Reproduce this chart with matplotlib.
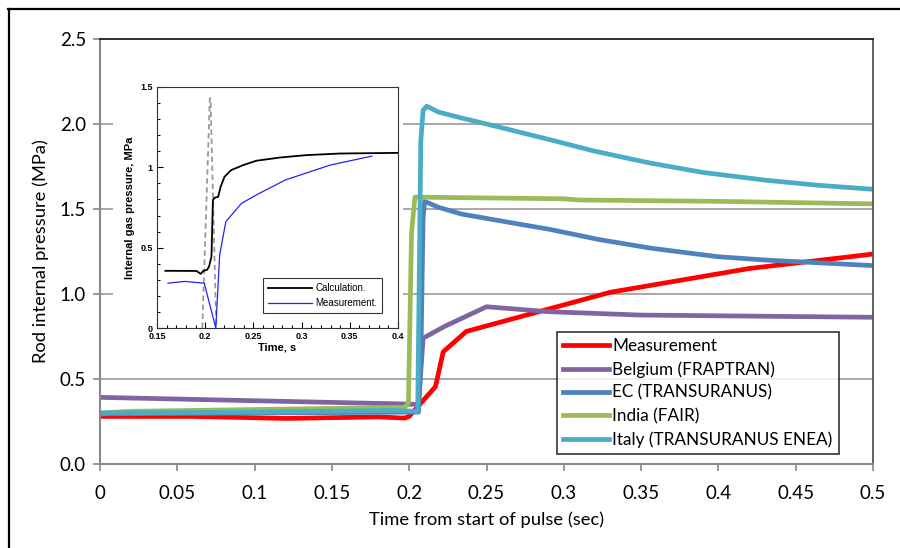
import matplotlib
matplotlib.use('Agg')
import matplotlib.pyplot as plt
from matplotlib.lines import Line2D
from matplotlib.ticker import MultipleLocator

# =============================
# DATOS PRINCIPALES (presion interna de la varilla, MPa)
# =============================
t_meas = [0, 0.06, 0.12, 0.18, 0.197, 0.2, 0.217, 0.222, 0.237, 0.33, 0.42, 0.5]
p_meas = [0.28, 0.28, 0.268, 0.277, 0.27, 0.28, 0.455, 0.66, 0.78, 1.01, 1.15, 1.235]

t_bel = [0, 0.197, 0.206, 0.209, 0.223, 0.25, 0.29, 0.35, 0.5]
p_bel = [0.392, 0.353, 0.35, 0.74, 0.81, 0.925, 0.896, 0.876, 0.863]

t_ec = [0, 0.1, 0.197, 0.206, 0.2075, 0.209, 0.21, 0.219, 0.234, 0.268, 0.291,
        0.323, 0.356, 0.399, 0.43, 0.464, 0.5]
p_ec = [0.295, 0.3, 0.305, 0.305, 0.6, 1.45, 1.545, 1.51, 1.47, 1.416, 1.38,
        1.32, 1.27, 1.22, 1.2, 1.184, 1.167]

t_ind = [0, 0.02, 0.197, 0.1995, 0.2015, 0.2037, 0.25, 0.3, 0.31, 0.4, 0.5]
p_ind = [0.30, 0.31, 0.333, 0.36, 1.36, 1.57, 1.565, 1.56, 1.553, 1.545, 1.53]

t_ita = [0, 0.1, 0.19, 0.2055, 0.2075, 0.209, 0.2113, 0.219, 0.234, 0.25, 0.27,
         0.29, 0.32, 0.356, 0.39, 0.43, 0.464, 0.5]
p_ita = [0.30, 0.305, 0.315, 0.31, 1.9, 2.08, 2.105, 2.07, 2.035, 2.0, 1.955,
         1.91, 1.84, 1.77, 1.715, 1.67, 1.64, 1.616]

series = [
    ("Measurement", t_meas, p_meas, "#FF0000"),
    ("Belgium (FRAPTRAN)", t_bel, p_bel, "#8064A2"),
    ("EC (TRANSURANUS)", t_ec, p_ec, "#4F81BD"),
    ("India (FAIR)", t_ind, p_ind, "#9BBB59"),
    ("Italy (TRANSURANUS ENEA)", t_ita, p_ita, "#4BACC6"),
]

x_ticks = [0, 0.05, 0.1, 0.15, 0.2, 0.25, 0.3, 0.35, 0.4, 0.45, 0.5]
x_labels = ["0", "0.05", "0.1", "0.15", "0.2", "0.25", "0.3", "0.35", "0.4", "0.45", "0.5"]
y_ticks = [0.0, 0.5, 1.0, 1.5, 2.0, 2.5]

# =============================
# DATOS DEL RECUADRO (calculo vs medicion)
# =============================
t_calc = [0.1587, 0.191, 0.1954, 0.198, 0.202, 0.204, 0.2065, 0.208, 0.21, 0.2135,
          0.216, 0.22, 0.227, 0.2395, 0.253, 0.2776, 0.305, 0.34, 0.4]
p_calc = [0.356, 0.355, 0.337, 0.356, 0.362, 0.383, 0.445, 0.797, 0.811, 0.817,
          0.879, 0.941, 0.983, 1.014, 1.041, 1.061, 1.076, 1.086, 1.09]

t_med = [0.1614, 0.1788, 0.199, 0.211, 0.215, 0.2214, 0.2377, 0.253, 0.283, 0.3296, 0.373]
p_med = [0.279, 0.29, 0.279, 0.0, 0.455, 0.662, 0.776, 0.828, 0.921, 1.014, 1.07]

t_pulso = [0.197, 0.2048, 0.2055, 0.2115]
p_pulso = [0.0, 1.43, 1.43, 0.0]

# =============================
# GRAFICO PRINCIPAL
# =============================
plt.rcParams['font.family'] = ['Lato', 'DejaVu Sans']

fig = plt.figure(figsize=(9, 5.48), dpi=100)
ax = fig.add_axes([100 / 900, 84 / 548, 773 / 900, 425 / 548])
ax.set_zorder(0)

for nombre, t, p, color in series:
    ax.plot(t, p, color=color, lw=3.4, label=nombre, solid_joinstyle='round')

ax.set_xlim(0, 0.5)
ax.set_ylim(0, 2.5)
ax.set_xticks(x_ticks)
ax.set_xticklabels(x_labels)
ax.set_yticks(y_ticks)
ax.set_yticklabels(["%.1f" % v for v in y_ticks])
ax.yaxis.grid(True, color="#999999", lw=1.2)
ax.set_axisbelow(True)
ax.tick_params(axis='both', labelsize=13.5, colors="#888888", labelcolor="black",
               direction='out', length=5, width=1.2)
ax.tick_params(axis='x', pad=10)
ax.tick_params(axis='y', pad=5)
for lado in ['left', 'bottom']:
    ax.spines[lado].set_color("#888888")
    ax.spines[lado].set_linewidth(1.5)
ax.spines['top'].set_color("#222222")
ax.spines['right'].set_color("#555555")
ax.spines['top'].set_linewidth(1.3)
ax.spines['right'].set_linewidth(1.3)

ax.set_xlabel("Time from start of pulse (sec)", fontsize=13.2, labelpad=7)
ax.set_ylabel("Rod internal pressure (MPa)", fontsize=13.2, labelpad=8)

ley = ax.legend(loc='upper left', bbox_to_anchor=(0.591, 0.311), fontsize=12.3,
                frameon=True, fancybox=False, edgecolor="black", handlelength=2.7,
                handletextpad=0.2, labelspacing=0.42, borderpad=0.35,
                borderaxespad=0)
ley.get_frame().set_linewidth(1.2)

# fondo blanco del recuadro
fondo = fig.add_axes([113 / 900, 183 / 548, 290 / 900, 290 / 548])
fondo.set_zorder(1)
fondo.set_xticks([])
fondo.set_yticks([])
for s in fondo.spines.values():
    s.set_visible(False)

# =============================
# RECUADRO
# =============================
fuente_ins = ['Liberation Sans', 'DejaVu Sans']
ins = fig.add_axes([157 / 900, 220 / 548, 241 / 900, 241 / 548])
ins.set_zorder(2)
ins.plot(t_pulso, p_pulso, color="#999999", lw=1.3, ls=(0, (3, 2)))
ins.plot(t_calc, p_calc, color="black", lw=1.3, label="Calculation.")
ins.plot(t_med, p_med, color="#2222FF", lw=0.9, label="Measurement.")
ins.set_xlim(0.15, 0.4)
ins.set_ylim(0, 1.5)
ins.set_xticks([0.15, 0.2, 0.25, 0.3, 0.35, 0.4])
ins.set_xticklabels(["0.15", "0.2", "0.25", "0.3", "0.35", "0.4"])
ins.set_yticks([0, 0.5, 1, 1.5])
ins.set_yticklabels(["0", "0.5", "1", "1.5"])
ins.xaxis.set_minor_locator(MultipleLocator(0.01))
ins.yaxis.set_minor_locator(MultipleLocator(0.1))
ins.tick_params(which='both', direction='in', labelsize=6.5, width=0.8,
                top=False, right=False, pad=3)
ins.tick_params(which='major', length=4)
ins.tick_params(which='minor', length=2)
for lbl in ins.get_xticklabels() + ins.get_yticklabels():
    lbl.set_fontfamily(fuente_ins)
    lbl.set_fontweight('bold')
for s in ins.spines.values():
    s.set_linewidth(0.8)
    s.set_color("#333333")
ins.set_xlabel("Time, s", fontsize=8, fontweight='bold', family=fuente_ins, labelpad=1)
ins.set_ylabel("Internal gas pressure, MPa", fontsize=8, fontweight='bold',
               family=fuente_ins, labelpad=4)
ley2 = ins.legend(loc='lower right', bbox_to_anchor=(0.934, 0.062),
                  frameon=True, fancybox=False, edgecolor="black", handlelength=4.6,
                  handletextpad=0.3, labelspacing=0.5, borderpad=0.5,
                  borderaxespad=0, prop={'family': fuente_ins, 'size': 7})
ley2.get_frame().set_linewidth(0.8)

# marco exterior
fig.add_artist(Line2D([8.5 / 900, 8.5 / 900], [0, 539 / 548], color="black", lw=1.6))
fig.add_artist(Line2D([8 / 900, 1], [539 / 548, 539 / 548], color="black", lw=1.6))

fig.savefig("out.png", dpi=100)
